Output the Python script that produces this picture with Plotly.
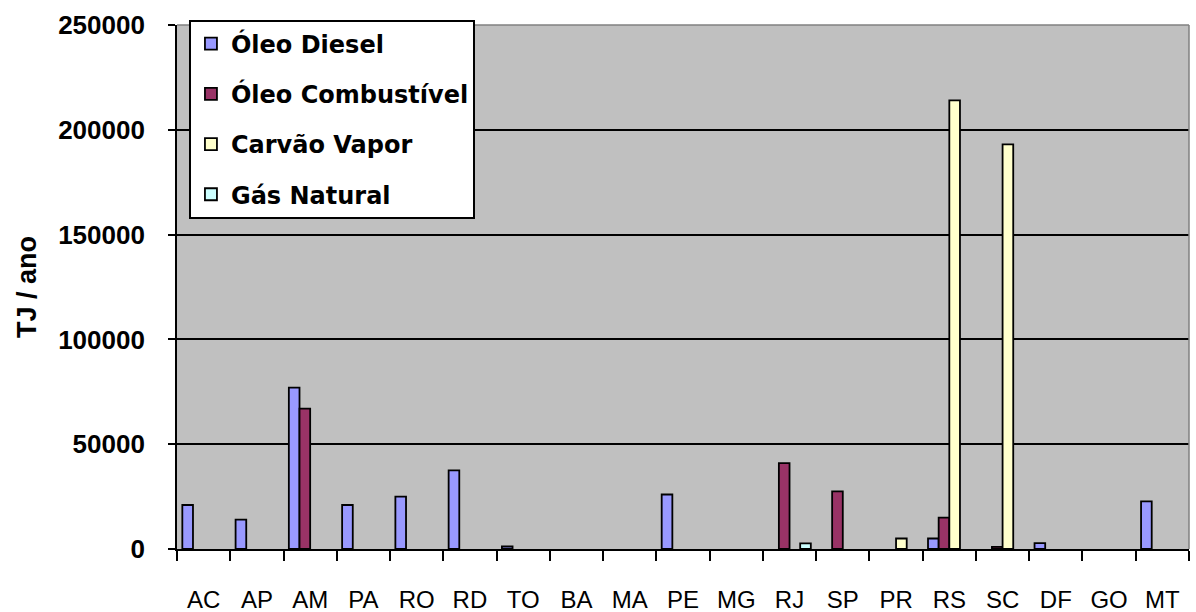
import plotly.graph_objects as go

# Brazilian states (categories)
estados = ["AC", "AP", "AM", "PA", "RO", "RD", "TO", "BA", "MA", "PE",
           "MG", "RJ", "SP", "PR", "RS", "SC", "DF", "GO", "MT"]

# Fuel consumption per state, TJ / ano (None = no consumption)
oleo_diesel = [21000, 14000, 77000, 21000, 25000, 37500, 1200, None, None, 26000,
               None, None, None, None, 5000, None, 2800, None, 22700]
oleo_combustivel = [None, None, 67000, None, None, None, None, None, None, None,
                    None, 41000, 27500, None, 15000, 1000, None, None, None]
carvao_vapor = [None, None, None, None, None, None, None, None, None, None,
                None, None, None, 5000, 214000, 193000, None, None, None]
gas_natural = [None, None, None, None, None, None, None, None, None, None,
               None, 2700, None, None, None, None, None, None, None]

y_ticks = [0, 50000, 100000, 150000, 200000, 250000]

series = [
    ("Óleo Diesel", oleo_diesel, "#9999FF"),
    ("Óleo Combustível", oleo_combustivel, "#993366"),
    ("Carvão Vapor", carvao_vapor, "#FFFFCC"),
    ("Gás Natural", gas_natural, "#CCFFFF"),
]

fig = go.Figure()
for i, (name, vals, color) in enumerate(series):
    fig.add_trace(go.Bar(
        x=estados, y=vals, name=name, legendgroup=f"g{i}",
        marker=dict(color=color, line=dict(color="black", width=1.8)),
    ))

fig.update_layout(
    width=1196, height=612,
    margin=dict(l=177, r=7, t=25, b=63),
    paper_bgcolor="white",
    plot_bgcolor="#C0C0C0",
    barmode="group",
    bargap=0.2,
    bargroupgap=0,
    font=dict(family="Liberation Sans, Arial, sans-serif", color="black"),
    showlegend=True,
    legend=dict(
        x=0.012, y=1.01, xanchor="left", yanchor="top",
        bgcolor="white", bordercolor="black", borderwidth=1.8,
        font=dict(family="DejaVu Sans, Verdana, sans-serif", size=24,
                  color="black", weight="bold"),
        traceorder="grouped", tracegroupgap=16,
    ),
    xaxis=dict(
        type="category", automargin=False,
        showline=True, linecolor="black", linewidth=1.8,
        ticks="outside", tickson="boundaries", ticklen=10, tickwidth=1.8,
        tickcolor="black",
        tickfont=dict(family="Liberation Sans, Arial, sans-serif", size=24),
        ticklabelstandoff=28,
        showgrid=False,
    ),
    yaxis=dict(
        range=[0, 250000], automargin=False,
        tickvals=y_ticks,
        ticktext=[str(v) for v in y_ticks],
        showline=True, linecolor="black", linewidth=1.8,
        ticks="outside", ticklen=7, tickwidth=1.8, tickcolor="black",
        tickfont=dict(family="Liberation Sans, Arial, sans-serif", size=26,
                      weight="bold"),
        ticklabelstandoff=18,
        showgrid=True, gridcolor="black", gridwidth=2,
        zeroline=False,
        title=dict(text="TJ / ano", standoff=14,
                   font=dict(family="Liberation Sans, Arial, sans-serif",
                             size=27, weight="bold")),
    ),
)

# plot-area frame on the top and right sides
fig.add_shape(type="line", xref="paper", yref="paper", x0=0, x1=1, y0=1, y1=1,
              line=dict(color="#808080", width=1.5))
fig.add_shape(type="line", xref="paper", yref="paper", x0=1, x1=1, y0=0, y1=1,
              line=dict(color="#808080", width=1.5))

fig.write_html("out.html")
